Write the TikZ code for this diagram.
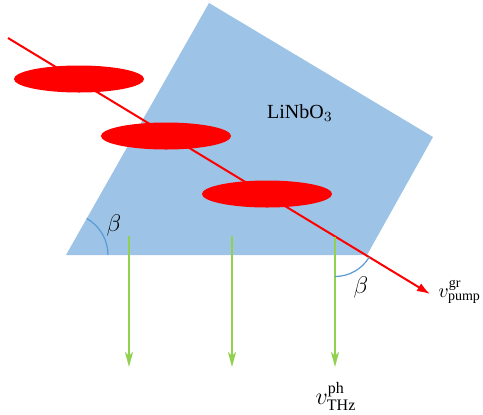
\documentclass[tikz,border=0pt]{standalone}
\usepackage{fontspec}
\setmainfont{Liberation Serif}
\usepackage{tikz}
\usetikzlibrary{shapes.geometric, arrows.meta}
\definecolor{crystalblue}{RGB}{157, 195, 230}
\definecolor{pumpred}{RGB}{255, 0, 0}
\definecolor{thzgreen}{RGB}{146, 208, 80}
\definecolor{arcblue}{RGB}{91, 155, 213}

\begin{document}
\begin{tikzpicture}[
        x=0.5pt, y=-0.5pt,
        crystal/.style={fill=crystalblue, draw=none},
        pulse/.style={ellipse, fill=pumpred, draw=none, minimum width=65pt, minimum height=13.5pt, inner sep=0pt},
        beam/.style={-{Latex[length=6.5pt, width=4.5pt]}, pumpred, line width=1pt},
        thzarrow/.style={-{Stealth[length=7.5pt, width=4pt, inset=2pt]}, thzgreen, line width=1pt},
        anglearc/.style={arcblue, line width=0.6pt},
        label/.style={inner sep=1pt},
        mlabel/.style={inner sep=1pt, font=\large}
    ]
        \useasboundingbox (0,0) rectangle (483,414);

        % crystal
        \coordinate (bl) at (66,255);
        \coordinate (tp) at (209,3);
        \coordinate (rt) at (433,137);
        \coordinate (br) at (367,255);
        \fill[crystal] (bl) -- (tp) -- (rt) -- (br) -- cycle;
        \node[label] (crys) at (300,113) {LiNbO$_3$};

        % pump beam
        \coordinate (in) at (8,38);
        \coordinate (out) at (430,294);
        \coordinate (cross) at (335,236.5);
        \draw[beam] (in) -- (out);

        \node[pulse] (p1) at (79,79) {};
        \node[pulse] (p2) at (166,136) {};
        \node[pulse] (p3) at (267,194) {};

        % THz
        \coordinate (t1) at (129,236);
        \coordinate (t2) at (232,236);
        \coordinate (e1) at (129,367);
        \coordinate (e2) at (232,367);
        \coordinate (e3) at (335,367);
        \draw[thzarrow] (t1) -- (e1);
        \draw[thzarrow] (t2) -- (e2);
        \draw[thzarrow] (cross) -- (e3);

        % angles
        \draw[anglearc] ([shift={(42,0)}]bl) arc[start angle=0, end angle=-60.4, radius=42];
        \draw[anglearc] ([shift={(0,40)}]cross) arc[start angle=90, end angle=31.2, radius=40];
        \node[mlabel] (b1) at (114,225) {$\beta$};
        \node[mlabel] (b2) at (361,287) {$\beta$};

        \node[label, inner sep=0pt, anchor=west] (vgr) at (438,292) {$v^{\mathrm{gr}}_{\mathrm{pump}}$};
        \node[mlabel] (vph) at (336,396) {$v^{\mathrm{ph}}_{\mathrm{THz}}$};
    \end{tikzpicture}
\end{document}
